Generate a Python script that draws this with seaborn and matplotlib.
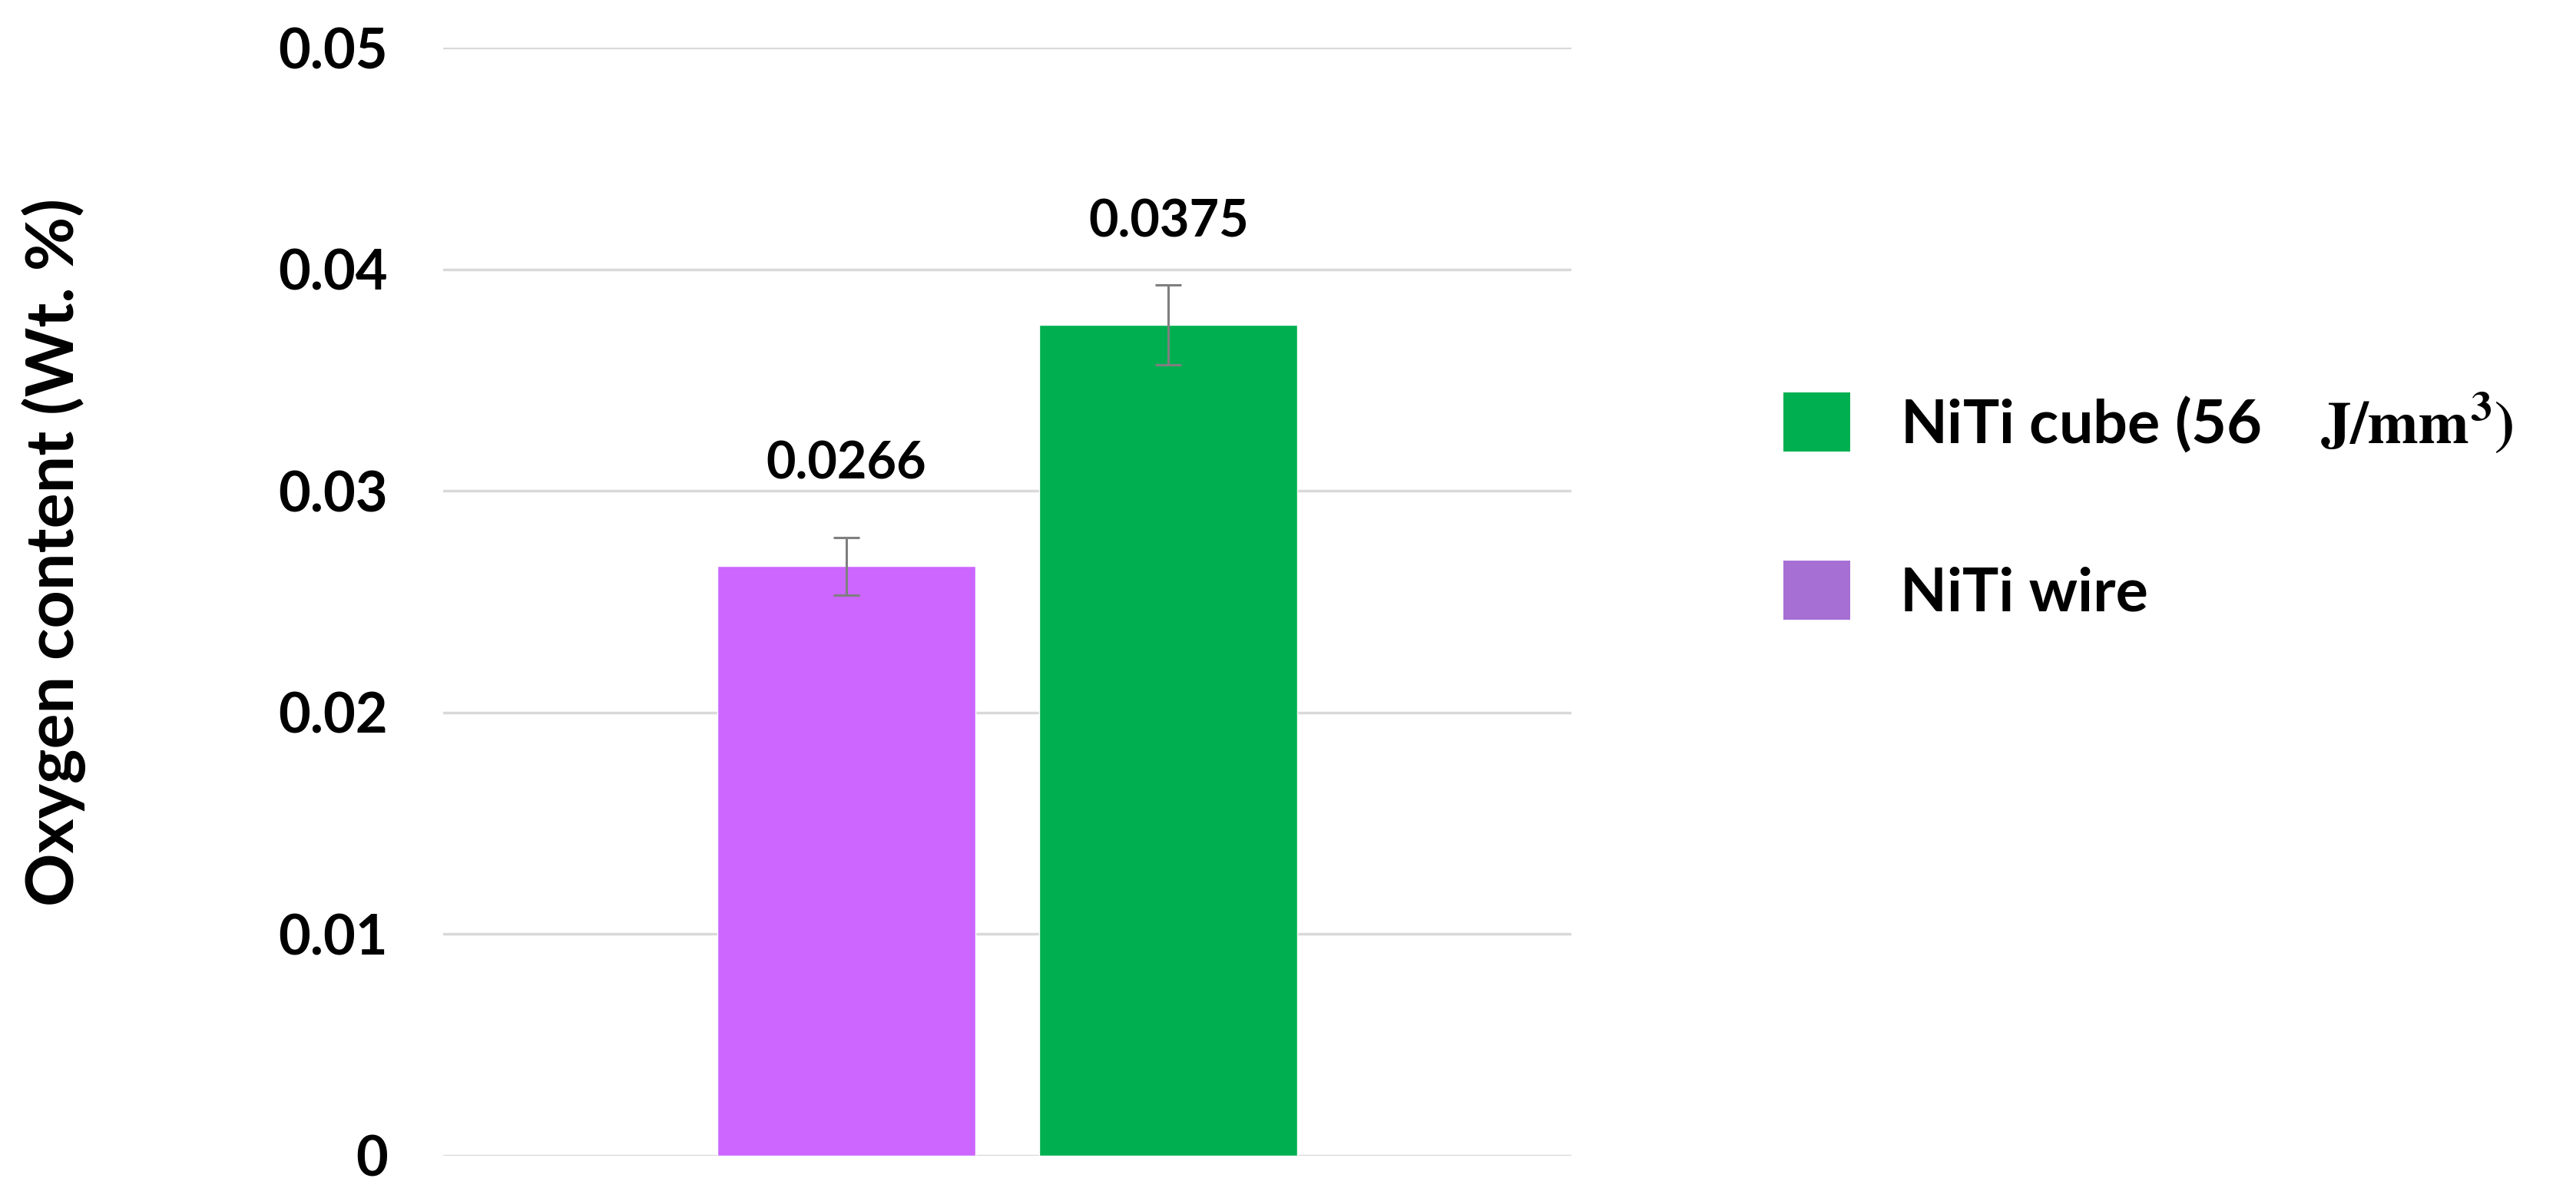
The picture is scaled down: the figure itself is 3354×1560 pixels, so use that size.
import matplotlib
matplotlib.use("Agg")
import matplotlib.pyplot as plt
import seaborn as sns
from matplotlib.patches import Patch

# ---- data ----
categories = ["NiTi wire", "NiTi cube"]
values = [0.0266, 0.0375]
errors = [0.0013, 0.0018]
value_labels = ["0.0266", "0.0375"]
bar_colors = ["#CC66FF", "#00B050"]
legend_labels = [r"NiTi cube (56    $\mathbf{J/mm^3)}$", "NiTi wire"]
legend_colors = ["#00B050", "#A66FD4"]
yticks = [0, 0.01, 0.02, 0.03, 0.04, 0.05]
ytick_labels = ["0", "0.01", "0.02", "0.03", "0.04", "0.05"]
ylabel = "Oxygen content (Wt. %)"

sns.set_theme(style="white")
plt.rcParams["font.family"] = ["Lato", "DejaVu Sans"]
plt.rcParams["font.weight"] = "bold"
plt.rcParams["mathtext.fontset"] = "stix"
plt.rcParams["text.color"] = "black"
plt.rcParams["ytick.color"] = "black"

fig = plt.figure(figsize=(33.55, 15.6), dpi=100)
ax = fig.add_axes([577 / 3355, 1 - 1505 / 1560, (2046 - 577) / 3355, (1505 - 62) / 1560])

sns.barplot(x=categories, y=values, hue=categories, palette=bar_colors,
            legend=False, width=0.8, ax=ax, saturation=1)

centers = [p.get_x() + p.get_width() / 2 for p in ax.patches]
ax.errorbar(centers, values, yerr=errors, fmt="none", ecolor="#7F7F7F",
            elinewidth=2.2, capsize=12, capthick=2.2, zorder=5)

for cx, v, lab in zip(centers, values, value_labels):
    ax.text(cx, v + 0.0046, lab, ha="center", va="center",
            fontsize=48, fontweight="bold", color="black")

ax.set_ylim(0, 0.05)
ax.set_xlim(-1.25, 2.25)
ax.set_yticks(yticks)
ax.set_yticklabels(ytick_labels, fontsize=52, fontweight="bold", color="black")
ax.tick_params(axis="y", length=0, pad=52)
ax.tick_params(axis="x", length=0, labelbottom=False)
ax.set_xlabel("")
ax.yaxis.grid(True, color="#D9D9D9", linewidth=2.5)
ax.set_axisbelow(True)
for s in ax.spines.values():
    s.set_visible(False)

fig.text(70 / 3355, 1 - 719 / 1560, ylabel, rotation=90, ha="center", va="center",
         fontsize=62, fontweight="bold", color="black")

handles = [Patch(facecolor=c, edgecolor="none") for c in legend_colors]
leg = fig.legend(handles, legend_labels, loc="upper left",
                 bbox_to_anchor=(2322 / 3355, 1 - 508 / 1560),
                 frameon=False, prop={"size": 57, "weight": "bold"},
                 handlelength=1.1, handleheight=1.12, handletextpad=0.82,
                 labelspacing=1.75, borderpad=0, borderaxespad=0)
for t in leg.get_texts():
    t.set_color("black")

fig.savefig("out.png", dpi=100, facecolor="white")
